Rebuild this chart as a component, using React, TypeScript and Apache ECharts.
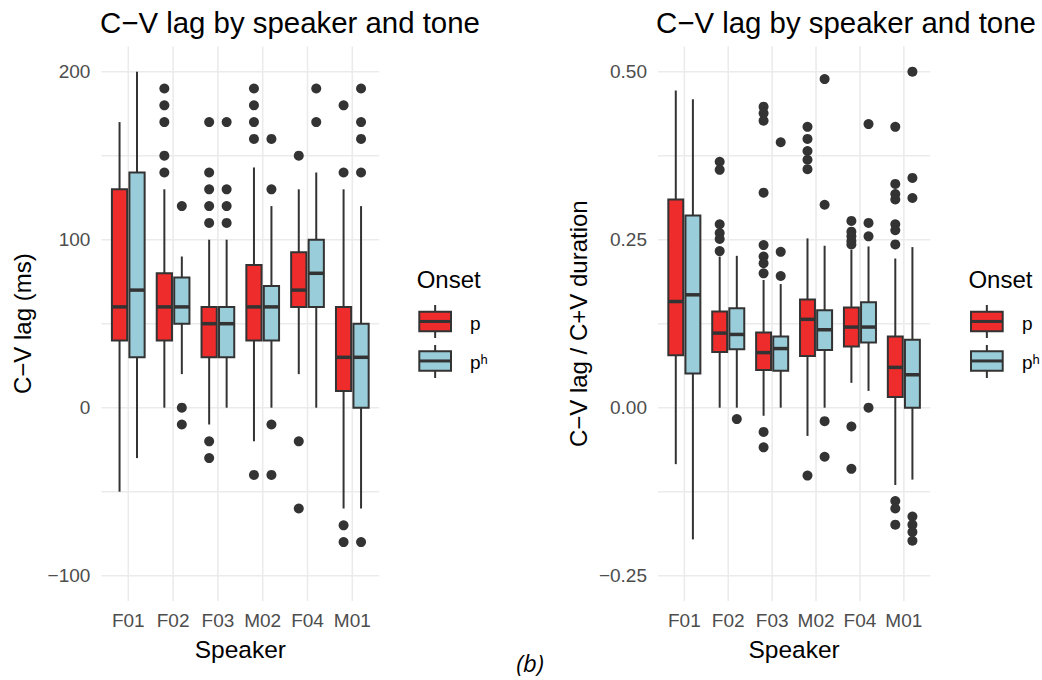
import React, { useEffect, useRef } from 'react';
import * as echarts from 'echarts';

// ---------- data ----------
const speakers = ['F01', 'F02', 'F03', 'M02', 'F04', 'M01'];

// box stats: [lower whisker, Q1, median, Q3, upper whisker]
const lagP = [
  [-50, 40, 60, 130, 170],
  [0, 40, 60, 80, 130],
  [-10, 30, 50, 60, 100],
  [-20, 40, 60, 85, 143],
  [20, 60, 70, 92.5, 130],
  [-60, 10, 30, 60, 130],
];
const lagPh = [
  [-30, 30, 70, 140, 200],
  [20, 50, 60, 77.5, 90],
  [0, 30, 50, 60, 100],
  [0, 40, 60, 72.5, 120],
  [0, 60, 80, 100, 140],
  [-60, 0, 30, 50, 120],
];
const lagPOut = [
  [],
  [140, 150, 170, 180, 190],
  [170, 140, 130, 120, 110, -20, -30],
  [190, 180, 170, 160, -40],
  [150, -20, -60],
  [180, 140, -70, -80],
];
const lagPhOut = [
  [],
  [120, 0, -10],
  [170, 130, 120, 110],
  [160, 130, -10, -40],
  [190, 170],
  [190, 170, 160, 140, -80],
];

const ratP = [
  [-0.084, 0.078, 0.158, 0.31, 0.472],
  [0, 0.083, 0.111, 0.143, 0.225],
  [-0.012, 0.056, 0.082, 0.112, 0.19],
  [-0.042, 0.077, 0.1315, 0.161, 0.252],
  [0.037, 0.091, 0.12, 0.149, 0.235],
  [-0.115, 0.016, 0.06, 0.106, 0.222],
];
const ratPh = [
  [-0.196, 0.051, 0.168, 0.286, 0.459],
  [0, 0.087, 0.109, 0.148, 0.226],
  [0, 0.055, 0.088, 0.106, 0.184],
  [0, 0.086, 0.116, 0.145, 0.241],
  [0.025, 0.097, 0.12, 0.157, 0.24],
  [-0.107, 0, 0.049, 0.101, 0.239],
];
const ratPOut = [
  [],
  [0.366, 0.354, 0.273, 0.26, 0.251, 0.233],
  [0.448, 0.438, 0.427, 0.32, 0.242, 0.225, 0.215, 0.2, -0.036, -0.059],
  [0.418, 0.4, 0.382, 0.369, 0.355, -0.101],
  [0.278, 0.262, 0.255, 0.248, 0.243, -0.028, -0.091],
  [0.418, 0.333, 0.318, 0.31, 0.273, 0.264, 0.243, -0.139, -0.15, -0.174],
];
const ratPhOut = [
  [],
  [-0.017],
  [0.395, 0.232, 0.196],
  [0.489, 0.302, -0.02, -0.073],
  [0.422, 0.275, 0.255, 0],
  [0.5, 0.342, 0.312, -0.162, -0.174, -0.185, -0.198],
];

const lagTicks = [-100, 0, 100, 200];
const lagMinor = [-50, 50, 150];
const ratTicks = [-0.25, 0, 0.25, 0.5];
const ratMinor = [-0.125, 0.125, 0.375];

const titleText = 'C\u2212V lag by speaker and tone';
const legendTitle = 'Onset';
const legendLabels = ['p', 'p\u02B0'];

// ---------- styles ----------
const RED = '#EE2C2C';
const BLUE = '#9ACDDA';
const INK = '#333333';
const GRID = '#EBEBEB';
const FONT = '"Liberation Sans", Arial, Helvetica, sans-serif';
const DODGE = 0.195;
const HALF = 0.17;

const minus = (s: string) => s.replace('-', '\u2212');
const fmtLag = (v: number) => minus(String(v));
const fmtRat = (v: number) => minus(v.toFixed(2));

function boxSeries(name: string, stats: number[][], color: string, offset: number, idx: number) {
  return {
    type: 'custom',
    name,
    xAxisIndex: idx,
    yAxisIndex: idx,
    z: 3,
    silent: true,
    data: stats.map((s, i) => [i + 1 + offset, ...s]),
    encode: { x: 0, y: [1, 2, 3, 4, 5] },
    renderItem: (params: any, api: any) => {
      const x = api.value(0);
      const lo = api.value(1), q1 = api.value(2), md = api.value(3), q3 = api.value(4), hi = api.value(5);
      const y = (v: number) => api.coord([x, v])[1];
      const cx = api.coord([x, md])[0];
      const xl = api.coord([x - HALF, md])[0];
      const xr = api.coord([x + HALF, md])[0];
      return {
        type: 'group',
        children: [
          { type: 'line', shape: { x1: cx, y1: y(hi), x2: cx, y2: y(q3) }, style: { stroke: INK, lineWidth: 2 } },
          { type: 'line', shape: { x1: cx, y1: y(q1), x2: cx, y2: y(lo) }, style: { stroke: INK, lineWidth: 2 } },
          { type: 'rect', shape: { x: xl, y: y(q3), width: xr - xl, height: y(q1) - y(q3) }, style: { fill: color, stroke: INK, lineWidth: 2 } },
          { type: 'line', shape: { x1: xl, y1: y(md), x2: xr, y2: y(md) }, style: { stroke: INK, lineWidth: 3.5 } },
        ],
      };
    },
  };
}

function outlierSeries(name: string, outs: number[][], offset: number, idx: number) {
  return {
    type: 'scatter',
    name,
    xAxisIndex: idx,
    yAxisIndex: idx,
    z: 4,
    silent: true,
    symbol: 'circle',
    symbolSize: 10,
    itemStyle: { color: INK, opacity: 1 },
    data: outs.flatMap((arr, i) => arr.map((v) => [i + 1 + offset, v])),
  };
}

function gridSeries(idx: number, yVals: number[]) {
  return [
    {
      type: 'custom',
      xAxisIndex: idx,
      yAxisIndex: idx,
      z: 1,
      silent: true,
      data: yVals.map((v) => [1, v]),
      encode: { x: 0, y: 1 },
      renderItem: (params: any, api: any) => {
        const cs = params.coordSys;
        const yy = api.coord([1, api.value(1)])[1];
        return { type: 'line', shape: { x1: cs.x, y1: yy, x2: cs.x + cs.width, y2: yy }, style: { stroke: GRID, lineWidth: 1.6 } };
      },
    },
    {
      type: 'custom',
      xAxisIndex: idx,
      yAxisIndex: idx,
      z: 1,
      silent: true,
      data: speakers.map((_, i) => [i + 1, yVals[0]]),
      encode: { x: 0, y: 1 },
      renderItem: (params: any, api: any) => {
        const cs = params.coordSys;
        const xx = api.coord([api.value(0), api.value(1)])[0];
        return { type: 'line', shape: { x1: xx, y1: cs.y, x2: xx, y2: cs.y + cs.height }, style: { stroke: GRID, lineWidth: 1.6 } };
      },
    },
  ];
}

function legendGraphic(left: number, labelX: number) {
  const keyW = 31.7;
  const cx = left + 2.6 + keyW / 2;
  const kx = left + 2.6;
  const keys = [
    { color: RED, top: 311.7, h: 19.5, w0: 305, w1: 338, label: legendLabels[0] },
    { color: BLUE, top: 351.2, h: 19.5, w0: 345, w1: 378, label: legendLabels[1] },
  ];
  const children: any[] = [
    {
      type: 'text',
      x: left,
      y: 279,
      style: { text: legendTitle, fontSize: 24, fontFamily: FONT, fill: '#000', align: 'left', verticalAlign: 'middle' },
    },
  ];
  keys.forEach((k) => {
    children.push({ type: 'line', shape: { x1: cx, y1: k.w0, x2: cx, y2: k.w1 }, style: { stroke: INK, lineWidth: 2 } });
    children.push({ type: 'rect', shape: { x: kx, y: k.top, width: keyW, height: k.h }, style: { fill: k.color, stroke: INK, lineWidth: 2 } });
    children.push({ type: 'line', shape: { x1: kx, y1: k.top + k.h / 2, x2: kx + keyW, y2: k.top + k.h / 2 }, style: { stroke: INK, lineWidth: 3 } });
    children.push({
      type: 'text',
      x: labelX,
      y: k.top + k.h / 2 + 2,
      style: { text: k.label, fontSize: 19, fontFamily: FONT, fill: '#000', align: 'left', verticalAlign: 'middle' },
    });
  });
  return children;
}

const GRID_TOP = 46.5;
const GRID_H = 554.4;

function xAxis(idx: number) {
  return {
    type: 'value',
    gridIndex: idx,
    min: 0.4,
    max: 6.6,
    axisLine: { show: false },
    axisTick: { show: false },
    splitLine: { show: false },
    axisLabel: {
      customValues: [1, 2, 3, 4, 5, 6],
      formatter: (v: number) => speakers[Math.round(v) - 1] ?? '',
      color: '#4D4D4D',
      fontSize: 19,
      fontFamily: FONT,
      margin: 10,
    },
    name: 'Speaker',
    nameLocation: 'middle',
    nameGap: 36,
    nameTextStyle: { fontSize: 24.5, color: '#000', fontFamily: FONT },
  };
}

export default function App() {
  const ref = useRef<HTMLDivElement>(null);
  useEffect(() => {
    document.body.style.margin = '0';
    const chart = echarts.init(ref.current!, null, { renderer: 'svg' });
    const option: any = {
      animation: false,
      backgroundColor: '#ffffff',
      grid: [
        { left: 101.4, top: GRID_TOP, width: 277.8, height: GRID_H },
        { left: 658, top: GRID_TOP, width: 272.2, height: GRID_H },
      ],
      xAxis: [xAxis(0), xAxis(1)],
      yAxis: [
        {
          type: 'value',
          gridIndex: 0,
          min: -115,
          max: 215,
          axisLine: { show: false },
          axisTick: { show: false },
          splitLine: { show: false },
          axisLabel: { customValues: lagTicks, formatter: fmtLag, color: '#4D4D4D', fontSize: 19, fontFamily: FONT, margin: 11 },
          name: 'C\u2212V lag (ms)',
          nameLocation: 'middle',
          nameGap: 67,
          nameTextStyle: { fontSize: 24, color: '#000', fontFamily: FONT },
        },
        {
          type: 'value',
          gridIndex: 1,
          min: -0.2875,
          max: 0.5375,
          axisLine: { show: false },
          axisTick: { show: false },
          splitLine: { show: false },
          axisLabel: { customValues: ratTicks, formatter: fmtRat, color: '#4D4D4D', fontSize: 19, fontFamily: FONT, margin: 11 },
          name: 'C\u2212V lag / C+V duration',
          nameLocation: 'middle',
          nameGap: 68,
          nameTextStyle: { fontSize: 24, color: '#000', fontFamily: FONT },
        },
      ],
      graphic: [
        {
          type: 'text',
          x: 100,
          y: 22.5,
          style: { text: titleText, fontSize: 29.4, fontFamily: FONT, fill: '#000', align: 'left', verticalAlign: 'middle' },
        },
        {
          type: 'text',
          x: 656,
          y: 22.5,
          style: { text: titleText, fontSize: 29.4, fontFamily: FONT, fill: '#000', align: 'left', verticalAlign: 'middle' },
        },
        {
          type: 'text',
          x: 530,
          y: 662,
          style: { text: '(b)', fontSize: 24, fontStyle: 'italic', fontFamily: '"Open Sans", "Noto Sans", sans-serif', fill: '#000', align: 'center', verticalAlign: 'middle' },
        },
        { type: 'group', children: legendGraphic(416.7, 470) },
        { type: 'group', children: legendGraphic(968.4, 1022) },
      ],
      series: [
        ...gridSeries(0, [...lagTicks, ...lagMinor]),
        ...gridSeries(1, [...ratTicks, ...ratMinor]),
        boxSeries('p', lagP, RED, -DODGE, 0),
        boxSeries('p\u02B0', lagPh, BLUE, DODGE, 0),
        outlierSeries('p outliers', lagPOut, -DODGE, 0),
        outlierSeries('p\u02B0 outliers', lagPhOut, DODGE, 0),
        boxSeries('p', ratP, RED, -DODGE, 1),
        boxSeries('p\u02B0', ratPh, BLUE, DODGE, 1),
        outlierSeries('p outliers', ratPOut, -DODGE, 1),
        outlierSeries('p\u02B0 outliers', ratPhOut, DODGE, 1),
      ],
    };
    chart.setOption(option);
    return () => chart.dispose();
  }, []);
  return <div ref={ref} style={{ width: 1042, height: 680, background: '#fff' }} />;
}
